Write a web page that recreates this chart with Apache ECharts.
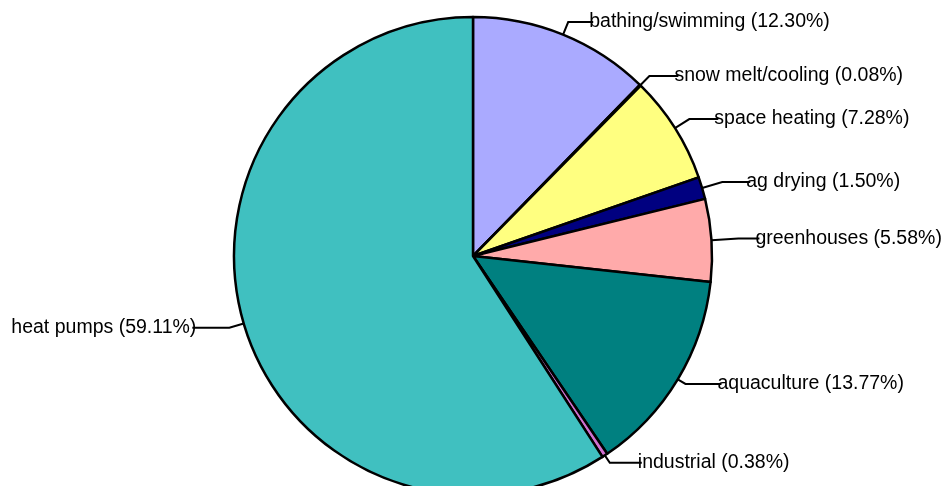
<!DOCTYPE html>
<html>
<head>
<meta charset="utf-8">
<script src="https://cdn.jsdelivr.net/npm/echarts@6/dist/echarts.min.js"></script>
<style>
  html, body { margin: 0; padding: 0; background: #fff; }
  #chart { width: 945px; height: 486px; }
</style>
</head>
<body>
<div id="chart"></div>
<script>
// Geothermal direct-use shares by application (percent)
const categories = [
  'bathing/swimming',
  'snow melt/cooling',
  'space heating',
  'ag drying',
  'greenhouses',
  'aquaculture',
  'industrial',
  'heat pumps'
];
const shares = [12.30, 0.08, 7.28, 1.50, 5.58, 13.77, 0.38, 59.11];

// Slice fills and leader-line lengths, in the same order as the categories
const sliceColors = ['#AAAAFF', '#FF8080', '#FFFF80', '#000080', '#FFAAAA', '#008080', '#D070D0', '#40C0C0'];
const leadLength = [13.6, 13, 17, 21, 27, 9, 9, 15];
const leadLength2 = [25, 29, 29, 28, 21, 36, 32, 37];

const seriesData = categories.map((name, i) => ({
  name: name,
  value: shares[i],
  itemStyle: { color: sliceColors[i] },
  labelLine: { length: leadLength[i], length2: leadLength2[i] }
}));

const chart = echarts.init(document.getElementById('chart'), null, { renderer: 'canvas' });
chart.setOption({
  animation: false,
  backgroundColor: '#ffffff',
  series: [{
    type: 'pie',
    center: [473, 256],
    radius: 239,
    startAngle: 90,
    clockwise: true,
    avoidLabelOverlap: false,
    data: seriesData,
    itemStyle: {
      borderColor: '#000000',
      borderWidth: 2.5
    },
    label: {
      show: true,
      color: '#000000',
      fontFamily: '"Liberation Sans", Arial, sans-serif',
      fontSize: 19.5,
      padding: [5, 0, 0, 0],
      distanceToLabelLine: -4,
      formatter: p => p.name + ' (' + p.value.toFixed(2) + '%)'
    },
    labelLine: {
      show: true,
      smooth: false,
      lineStyle: { color: '#000000', width: 2 }
    },
    emphasis: { disabled: true }
  }]
});
</script>
</body>
</html>
